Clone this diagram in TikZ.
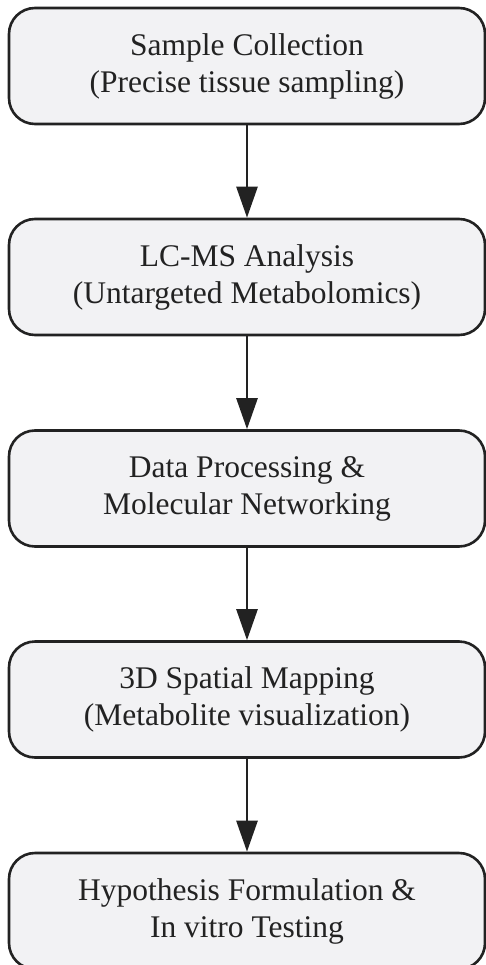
\documentclass[tikz,border=0pt]{standalone}
\usepackage{fontspec}
\setmainfont{Liberation Serif}
\usetikzlibrary{arrows.meta}
\definecolor{boxfill}{HTML}{F2F2F4}
\definecolor{ink}{HTML}{222222}
\begin{document}
\begin{tikzpicture}[x=1pt,y=-1pt,
  stepbox/.style={draw=ink, fill=boxfill, line width=2.6pt, rounded corners=26pt,
    minimum width=476pt, minimum height=116pt, inner sep=0pt, align=center,
    text=ink, font=\fontsize{31.5pt}{37pt}\selectfont},
  flow/.style={draw=ink, line width=2.6pt, -{Triangle[length=31pt,width=21pt]}}]
\useasboundingbox (0,0) rectangle (486,965);
\node[stepbox] (s1) at (247,66) {Sample Collection\\(Precise tissue sampling)};
\node[stepbox] (s2) at (247,277) {LC-MS Analysis\\(Untargeted Metabolomics)};
\node[stepbox] (s3) at (247,488.5) {Data Processing \&\\Molecular Networking};
\node[stepbox] (s4) at (247,699.5) {3D Spatial Mapping\\(Metabolite visualization)};
\node[stepbox] (s5) at (247,911) {Hypothesis Formulation \&\\In vitro Testing};
\draw[flow] (s1.south) -- (s2.north);
\draw[flow] (s2.south) -- (s3.north);
\draw[flow] (s3.south) -- (s4.north);
\draw[flow] (s4.south) -- (s5.north);
\end{tikzpicture}
\end{document}
